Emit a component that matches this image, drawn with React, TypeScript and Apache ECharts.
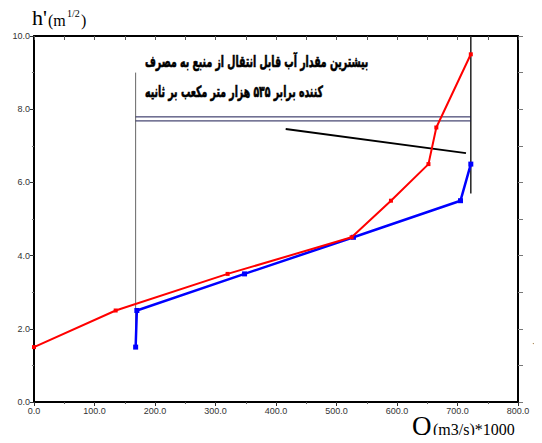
import React, { useEffect, useRef } from "react";
import * as echarts from "echarts";

const xTicks = [0, 100, 200, 300, 400, 500, 600, 700, 800];
const redQ = [0, 135, 320, 525, 590, 652, 665, 722];
const redH = [1.5, 2.5, 3.5, 4.5, 5.5, 6.5, 7.5, 9.5];
const blueQ = [168, 170, 348, 528, 705, 722];
const blueH = [1.5, 2.5, 3.5, 4.5, 5.5, 6.5];
const grayVLine = [[168, 9.0], [168, 1.7]];
const blackVLine = [[722, 10], [722, 5.7]];
const hLine1 = [[168, 7.79], [722, 7.79]];
const hLine2 = [[168, 7.68], [722, 7.68]];
const slantLine = [[416, 7.46], [714, 6.8]];
const noteLine1 = "بیشترین مقدار آب قابل انتقال از منبع به مصرف";
const noteLine2 = "کننده برابر ۵۳۵ هزار متر مکعب بر ثانیه";

export default function App() {
  const ref = useRef<HTMLDivElement>(null);
  useEffect(() => {
    if (!ref.current) return;
    const chart = echarts.init(ref.current, null, { renderer: "svg" });
    const lbl = { color: "#333", fontSize: 9, fontFamily: "Liberation Sans, Arial, sans-serif" };
    const serif = "Liberation Serif, serif";
    const lineS = (data: number[][], color: string, width: number) => ({
      type: "line",
      data,
      symbol: "none",
      lineStyle: { color, width },
      silent: true,
      z: 1,
    });
    const noteStyle = (text: string) => ({
      text,
      fontSize: 12,
      fontWeight: "bold",
      fontFamily: "DejaVu Sans, sans-serif",
      fill: "#000",
      stroke: "#000",
      lineWidth: 0.5,
    });
    const t = (text: string, x: number, y: number, size: number) => ({
      type: "text",
      x,
      y,
      style: { text, fontSize: size, fontFamily: serif, fill: "#000" },
    });
    chart.setOption({
      animation: false,
      backgroundColor: "#fff",
      grid: { left: 34, right: 24, top: 36, bottom: 41 },
      xAxis: [
        {
          type: "value",
          min: 0,
          max: 800,
          interval: 100,
          position: "bottom",
          axisLine: { show: true, lineStyle: { color: "#000", width: 2 } },
          axisTick: { show: true, length: 4, lineStyle: { color: "#333" } },
          minorTick: { show: true, splitNumber: 2, length: 2, lineStyle: { color: "#555" } },
          splitLine: { show: false },
          axisLabel: { ...lbl, margin: 4, formatter: (v: number) => v.toFixed(1) },
        },
        {
          type: "value",
          min: 0,
          max: 800,
          interval: 50,
          position: "top",
          axisLine: { show: true, onZero: false, lineStyle: { color: "#000", width: 2 } },
          axisTick: { show: true, inside: true, length: 4, lineStyle: { color: "#555" } },
          axisLabel: { show: false },
          splitLine: { show: false },
        },
      ],
      yAxis: [
        {
          type: "value",
          min: 0,
          max: 10,
          interval: 2,
          position: "left",
          axisLine: { show: true, lineStyle: { color: "#000", width: 2 } },
          axisTick: { show: true, length: 4, lineStyle: { color: "#333" } },
          minorTick: { show: true, splitNumber: 2, length: 2, lineStyle: { color: "#777" } },
          splitLine: { show: false },
          axisLabel: { ...lbl, margin: 4, formatter: (v: number) => v.toFixed(1) },
        },
        {
          type: "value",
          min: 0,
          max: 10,
          interval: 1,
          position: "right",
          axisLine: { show: true, onZero: false, lineStyle: { color: "#000", width: 2 } },
          axisTick: { show: true, length: 5, lineStyle: { color: "#777" } },
          axisLabel: { show: false },
          splitLine: { show: false },
        },
      ],
      series: [
        lineS(grayVLine, "#666", 1),
        lineS(blackVLine, "#222", 1.5),
        lineS(hLine1, "#1a1a50", 1),
        lineS(hLine2, "#1a1a50", 1),
        lineS(slantLine, "#000", 2),
        {
          type: "line",
          data: blueQ.map((q, i) => [q, blueH[i]]),
          symbol: "rect",
          symbolSize: 5,
          itemStyle: { color: "#0000ff" },
          lineStyle: { color: "#0000ff", width: 2.5 },
          z: 3,
        },
        {
          type: "line",
          data: redQ.map((q, i) => [q, redH[i]]),
          symbol: "rect",
          symbolSize: 4,
          itemStyle: { color: "#ff0000" },
          lineStyle: { color: "#ff0000", width: 2 },
          z: 4,
        },
      ],
      graphic: [
        { type: "text", x: 145, y: 54, scaleX: 0.78, scaleY: 1.3, style: noteStyle(noteLine1) },
        { type: "text", x: 145, y: 84, scaleX: 0.78, scaleY: 1.3, style: noteStyle(noteLine2) },
        t("h'", 32, 6, 22),
        t("(m", 48, 12, 16),
        t("1/2", 67, 8, 10),
        t(")", 81, 12, 16),
        t("Q", 412, 412, 27),
        t("(m3/s)*1000", 433, 421, 16),
        {
          type: "text",
          x: 531,
          y: 332,
          style: { text: "{", fontSize: 20, fontFamily: serif, fill: "#666" },
        },
      ],
    });
    return () => chart.dispose();
  }, []);
  return <div ref={ref} style={{ width: 542, height: 443, margin: -8 }} />;
}
